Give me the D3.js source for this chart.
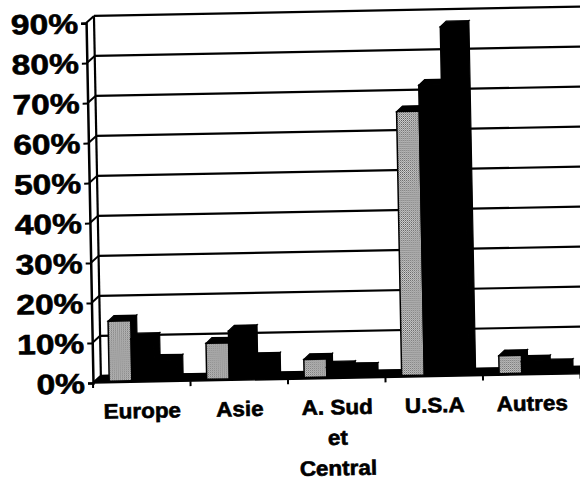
<!DOCTYPE html>
<html>
<head>
<meta charset="utf-8">
<script src="https://cdn.jsdelivr.net/npm/d3@7"></script>
<style>
  body { margin: 0; background: #fff; }
  svg { display: block; }
  text { font-family: "Liberation Sans", Arial, Helvetica, sans-serif; font-weight: bold; fill: #000; stroke: #000; stroke-width: 0.6; }
</style>
</head>
<body>
<script>
// Share by region, three series per region (percent)
const categories = ["Europe", "Asie", "A. Sud et Central", "U.S.A", "Autres"];
const categoryLines = [["Europe"], ["Asie"], ["A. Sud", "et", "Central"], ["U.S.A"], ["Autres"]];
const seriesNames = ["Série 1", "Série 2", "Série 3"];
const valuesSerie1 = [15, 9, 4.5, 66, 4.5];
const valuesSerie2 = [10.5, 12, 2.5, 72.5, 3];
const valuesSerie3 = [5, 5, 2, 87, 2];
const yTickValues = [0, 10, 20, 30, 40, 50, 60, 70, 80, 90];
const yTickLabels = ["0%", "10%", "20%", "30%", "40%", "50%", "60%", "70%", "80%", "90%"];

const W = 580, H = 481;
const svg = d3.select("body").append("svg").attr("width", W).attr("height", H);

// halftone grey fill for the first series
const defs = svg.append("defs");
const pat = defs.append("pattern").attr("id", "halftone")
  .attr("width", 2).attr("height", 2).attr("patternUnits", "userSpaceOnUse");
pat.append("rect").attr("width", 2).attr("height", 2).attr("fill", "#d2d2d2");
pat.append("rect").attr("x", 0).attr("y", 0).attr("width", 1).attr("height", 1).attr("fill", "#5a5a5a");
pat.append("rect").attr("x", 1).attr("y", 1).attr("width", 1).attr("height", 1).attr("fill", "#8c8c8c");

// plot origin (front-left corner of the floor)
const ox = 93, oy = 383;
const g = svg.append("g").attr("transform", `rotate(-1.1 ${ox} ${oy})`);

const x0 = d3.scaleBand().domain(categories).range([ox, ox + 487.5]);
const x1 = d3.scaleBand().domain(seriesNames).range([0, x0.bandwidth()]).paddingOuter(0.65);
const y = d3.scaleLinear().domain([0, 90]).range([oy, 23]);

// depth of the walls and of the columns (oblique projection)
const wall = { dx: 8, dy: -7 };
const col = { fx: 1.5, fy: -1.5, dx: 6, dy: -5.5 };

const xEnd = x0.range()[1];

// floor
g.append("polygon")
  .attr("points", [[ox, oy], [xEnd, oy], [xEnd + wall.dx, oy + wall.dy], [ox + wall.dx, oy + wall.dy]].join(" "))
  .attr("fill", "#000").attr("stroke", "#000").attr("stroke-width", 1.5);

// back wall gridlines
g.append("g").selectAll("line").data(yTickValues).join("line")
  .attr("x1", ox + wall.dx).attr("x2", xEnd + wall.dx)
  .attr("y1", d => y(d) + wall.dy).attr("y2", d => y(d) + wall.dy)
  .attr("stroke", "#000").attr("stroke-width", 2.2);

// side wall gridlines
g.append("g").selectAll("line").data(yTickValues).join("line")
  .attr("x1", ox).attr("x2", ox + wall.dx)
  .attr("y1", d => y(d)).attr("y2", d => y(d) + wall.dy)
  .attr("stroke", "#000").attr("stroke-width", 2);

// back wall left edge
g.append("line")
  .attr("x1", ox + wall.dx).attr("x2", ox + wall.dx)
  .attr("y1", y(0) + wall.dy).attr("y2", y(90) + wall.dy)
  .attr("stroke", "#000").attr("stroke-width", 2.2);

// value axis with ticks
const yAxis = d3.axisLeft(y).tickValues(yTickValues).tickSize(5).tickFormat("");
const ya = g.append("g").attr("transform", `translate(${ox},0)`).call(yAxis);
ya.select(".domain").attr("stroke", "#000").attr("stroke-width", 2.5);
ya.selectAll(".tick line").attr("stroke", "#000").attr("stroke-width", 2);

// value labels
g.append("g").selectAll("text").data(yTickValues).join("text")
  .attr("transform", d => `translate(${ox - 8},${y(d)}) scale(1.2,1)`)
  .attr("text-anchor", "end").attr("dy", "0.36em")
  .attr("font-size", 28)
  .text((d, i) => yTickLabels[i]);

// category ticks under the floor
const bounds = categories.map(c => x0(c)).concat([xEnd]);
g.append("g").selectAll("line").data(bounds).join("line")
  .attr("x1", d => d).attr("x2", d => d)
  .attr("y1", oy).attr("y2", oy + 5)
  .attr("stroke", "#000").attr("stroke-width", 2);

// columns
const seriesValues = [valuesSerie1, valuesSerie2, valuesSerie3];
const bars = [];
categories.forEach((c, i) => {
  seriesNames.forEach((s, j) => {
    bars.push({ cat: c, s, j, v: seriesValues[j][i] });
  });
});

const colG = g.append("g");
bars.forEach(b => {
  const w = x1.bandwidth();
  const xl = x0(b.cat) + x1(b.s) + col.fx;
  const xr = xl + w;
  const yt = y(b.v) + col.fy;
  const yb = y(0) + col.fy;
  const bg = colG.append("g");
  // right side face
  bg.append("polygon")
    .attr("points", [[xr, yt], [xr + col.dx, yt + col.dy], [xr + col.dx, yb + col.dy], [xr, yb]].join(" "))
    .attr("fill", "#000").attr("stroke", "#000").attr("stroke-width", 1.2);
  // top face
  bg.append("polygon")
    .attr("points", [[xl, yt], [xl + col.dx, yt + col.dy], [xr + col.dx, yt + col.dy], [xr, yt]].join(" "))
    .attr("fill", "#000").attr("stroke", "#000").attr("stroke-width", 1.2);
  // front face
  bg.append("rect")
    .attr("x", xl).attr("y", yt).attr("width", w).attr("height", yb - yt)
    .attr("fill", b.j === 0 ? "url(#halftone)" : "#000")
    .attr("stroke", "#000").attr("stroke-width", 1.5);
});

// category labels
const labG = g.append("g");
categories.forEach((c, i) => {
  const cx = x0(c) + x0.bandwidth() / 2;
  categoryLines[i].forEach((line, k) => {
    labG.append("text")
      .attr("transform", `translate(${cx},${oy + 36 + k * 30.5}) scale(1.07,1)`)
      .attr("text-anchor", "middle")
      .attr("font-size", 21)
      .text(line);
  });
});
</script>
</body>
</html>
